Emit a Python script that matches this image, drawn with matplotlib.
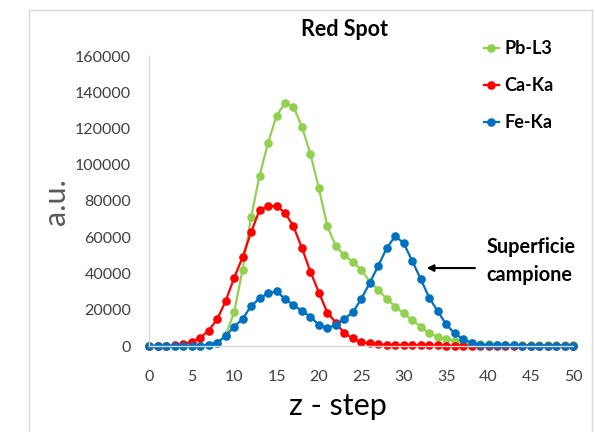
import matplotlib
matplotlib.use("Agg")
import matplotlib.pyplot as plt
from matplotlib.lines import Line2D

plt.rcParams['font.family'] = ['Lato', 'DejaVu Sans']

steps = list(range(0, 51))

pb_l3 = [0, 0, 0, 0, 0, 0, 0, 500, 1500, 6000,
         18500, 42000, 71000, 94000, 112000, 127000, 134000, 132000, 121000, 106000,
         87000, 66000, 55000, 50000, 46500, 42000, 35500, 31000, 26000, 21700,
         18000, 14300, 10700, 7000, 5000, 3700, 3000, 2000, 1500, 1200,
         1000, 800, 700, 600, 500, 500, 400, 400, 300, 300, 300]

ca_ka = [0, 0, 0, 300, 1000, 2400, 4600, 8500, 14700, 24800,
         37500, 49000, 62700, 75000, 77000, 77300, 73500, 66000, 54000, 41000,
         29500, 18400, 12900, 7000, 4200, 2000, 1500, 1000, 700, 500,
         400, 400, 300, 300, 300, 200, 200, 200, 200, 100,
         100, 100, 100, 100, 100, 100, 100, 100, 100, 100, 100]

fe_ka = [0, 0, 0, 0, 0, 0, 0, 800, 1800, 5500,
         10700, 14900, 22000, 26300, 29000, 30200, 26000, 22600, 19300, 16200,
         11600, 9900, 11600, 14900, 18600, 26000, 34800, 44300, 54000, 60700,
         56700, 47000, 37000, 26700, 19300, 12000, 7000, 3700, 1800, 800,
         500, 400, 300, 300, 200, 200, 200, 200, 200, 200, 200]

series = [("Pb-L3", pb_l3, "#92D050"),
          ("Ca-Ka", ca_ka, "#FF0000"),
          ("Fe-Ka", fe_ka, "#0070C0")]

xticks = list(range(0, 51, 5))
yticks = list(range(0, 160001, 20000))

fig = plt.figure(figsize=(5.95, 4.32), dpi=100)
ax = fig.add_axes([149.3 / 595, 1 - 346 / 432, 424 / 595, 290 / 432])

handles = []
for name, vals, col in series:
    h, = ax.plot(steps, vals, color=col, lw=1.6, marker='o', markersize=6.2,
                 markeredgewidth=0, label=name, clip_on=False)
    handles.append(h)

ax.set_xlim(0, 50)
ax.set_ylim(0, 160000)
ax.set_xticks(xticks)
ax.set_yticks(yticks)
ax.set_yticklabels([str(v) for v in yticks])
ax.tick_params(axis='both', length=0, labelsize=11.5, colors='#404040')
ax.tick_params(axis='y', pad=13)
ax.tick_params(axis='x', pad=17)

for s in ['top', 'right']:
    ax.spines[s].set_visible(False)
for s in ['left', 'bottom']:
    ax.spines[s].set_color('#D9D9D9')
    ax.spines[s].set_linewidth(1.0)

ax.set_xlabel("z - step", fontsize=22, color='#000000')
ax.xaxis.set_label_coords(0.444, -0.16)
ax.set_ylabel("a.u.", fontsize=22, color='#595959')
ax.yaxis.set_label_coords(-0.187, 0.497)

ax.text(0.46, 1.09, "Red Spot", transform=ax.transAxes, ha='center', va='center',
        fontsize=15.5, fontweight='bold')

fig.legend(handles=handles, loc='upper left', bbox_to_anchor=(468 / 595, 1 - 24 / 432),
           frameon=False, handlelength=0.8, handletextpad=0.3, labelspacing=1.1,
           prop={'weight': 'bold', 'size': 13}, markerscale=1.0)

ax.annotate("", xy=(32.7, 43000), xytext=(38.4, 43000),
            arrowprops=dict(arrowstyle='-|>', color='black', lw=1.5,
                            mutation_scale=10, shrinkA=0, shrinkB=0),
            annotation_clip=False)
ax.text(39.8, 46900, "Superficie\ncampione", ha='left', va='center', fontsize=14.3,
        fontweight='bold', linespacing=1.45, clip_on=False)

# outer chart frame
fc = '#D9D9D9'
fig.add_artist(Line2D([29 / 595, 29 / 595], [0, 1 - 10 / 432], color=fc, lw=1,
                      transform=fig.transFigure))
fig.add_artist(Line2D([29 / 595, 592 / 595], [1 - 10 / 432, 1 - 10 / 432], color=fc, lw=1,
                      transform=fig.transFigure))
fig.add_artist(Line2D([592 / 595, 592 / 595], [0, 1 - 10 / 432], color=fc, lw=1,
                      transform=fig.transFigure))

fig.savefig("out.png", dpi=100)
